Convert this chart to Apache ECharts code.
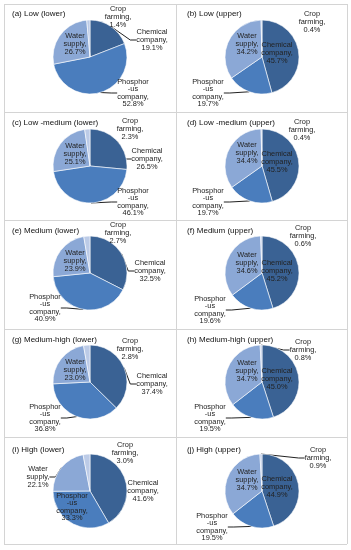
<!DOCTYPE html>
<html>
<head>
<meta charset="utf-8">
<script src="https://cdn.jsdelivr.net/npm/echarts@6/dist/echarts.min.js"></script>
<style>
html,body{margin:0;padding:0;background:#fff;}
#chart{width:351px;height:550px;}
</style>
</head>
<body>
<div id="chart"></div>
<script>
// ---- data ----
const categories = ['Chemical company', 'Phosphorus company', 'Water supply', 'Crop farming'];
const labelNames = ['Chemical\ncompany,', 'Phosphor\n-us\ncompany,', 'Water\nsupply,', 'Crop\nfarming,'];
const panelTitles = [
  '(a) Low (lower)', '(b) Low (upper)',
  '(c) Low -medium (lower)', '(d) Low -medium (upper)',
  '(e) Medium (lower)', '(f) Medium (upper)',
  '(g) Medium-high (lower)', '(h) Medium-high (upper)',
  '(i) High (lower)', '(j) High (upper)'
];
const lowLower        = [19.1, 52.8, 26.7, 1.4];
const lowUpper        = [45.7, 19.7, 34.2, 0.4];
const lowMediumLower  = [26.5, 46.1, 25.1, 2.3];
const lowMediumUpper  = [45.5, 19.7, 34.4, 0.4];
const mediumLower     = [32.5, 40.9, 23.9, 2.7];
const mediumUpper     = [45.2, 19.6, 34.6, 0.6];
const mediumHighLower = [37.4, 36.8, 23.0, 2.8];
const mediumHighUpper = [45.0, 19.5, 34.7, 0.8];
const highLower       = [41.6, 33.3, 22.1, 3.0];
const highUpper       = [44.9, 19.5, 34.7, 0.9];
const panelValues = [lowLower, lowUpper, lowMediumLower, lowMediumUpper, mediumLower,
  mediumUpper, mediumHighLower, mediumHighUpper, highLower, highUpper];

// ---- layout / style ----
const colors = ['#3a6294', '#4a7dbd', '#8ba8d6', '#bccbe7'];
const colX = [90, 262];
const rowY = [57, 166, 273, 382, 491];
const R = 37;
// label anchor positions (pixels) per panel, per category
const labelPos = [
  [[152,40],[133,93],[75,44],[118,17]],
  [[277,53],[208,93],[247,44],[312,22]],
  [[147,159],[133,202],[75,154],[130,129]],
  [[277,162],[208,202],[247,153],[302,130]],
  [[150,271],[45,308],[75,261],[118,233]],
  [[277,271],[210,310],[247,263],[303,236]],
  [[152,384],[45,418],[75,370],[130,349]],
  [[277,379],[210,418],[247,371],[303,350]],
  [[143,491],[72,507],[38,477],[125,453]],
  [[277,487],[212,527],[247,480],[318,458]]
];
const leaderLines = [
  [1,1,0,0],[0,1,0,0],[1,1,0,0],[0,1,0,0],[1,1,0,0],
  [0,1,0,0],[1,1,0,0],[0,1,0,1],[0,0,1,0],[0,1,0,1]
];
const titleTop = [10, 119, 227, 336, 446];
const FONT = '"Liberation Sans", Arial, sans-serif';

const chart = echarts.init(document.getElementById('chart'), null, {renderer: 'canvas'});

const series = panelValues.map((vals, p) => {
  const cx = colX[p % 2], cy = rowY[Math.floor(p / 2)];
  return {
    type: 'pie',
    center: [cx, cy],
    radius: [0, R],
    startAngle: 90,
    clockwise: true,
    avoidLabelOverlap: false,
    animation: false,
    silent: true,
    itemStyle: {borderColor: '#ffffff', borderWidth: 0.6},
    label: {
      show: true,
      position: 'outside',
      fontFamily: FONT,
      fontSize: 7.4,
      lineHeight: 7.6,
      color: '#222',
      align: 'center',
      formatter: (prm) => labelNames[prm.dataIndex] + '\n' + prm.value.toFixed(1) + '%'
    },
    labelLine: {show: true, length: 6, length2: 6, lineStyle: {color: '#222', width: 1}},
    labelLayout: (prm) => {
      const pos = labelPos[p][prm.dataIndex];
      return {x: pos[0], y: pos[1], align: 'center', verticalAlign: 'middle'};
    },
    data: vals.map((v, i) => ({
      name: categories[i],
      value: v,
      itemStyle: {color: colors[i]},
      labelLine: {show: !!leaderLines[p][i]}
    }))
  };
});

const titles = panelTitles.map((t, p) => ({
  text: t,
  left: p % 2 === 0 ? 12 : 187,
  top: titleTop[Math.floor(p / 2)],
  padding: 0,
  textStyle: {fontFamily: FONT, fontSize: 8, fontWeight: 'normal', color: '#111'}
}));

// panel frame lines
const gridC = '#d4d4d4';
const hLines = [4, 112, 220, 329, 437, 544];
const vLines = [4, 176, 347];
const graphics = [];
hLines.forEach(y => graphics.push({type: 'line', silent: true,
  shape: {x1: 4, y1: y + 0.5, x2: 347, y2: y + 0.5}, style: {stroke: gridC, lineWidth: 1}}));
vLines.forEach(x => graphics.push({type: 'line', silent: true,
  shape: {x1: x + 0.5, y1: 4, x2: x + 0.5, y2: 544}, style: {stroke: gridC, lineWidth: 1}}));

chart.setOption({
  backgroundColor: '#ffffff',
  animation: false,
  title: titles,
  graphic: graphics,
  series: series
});
</script>
</body>
</html>
